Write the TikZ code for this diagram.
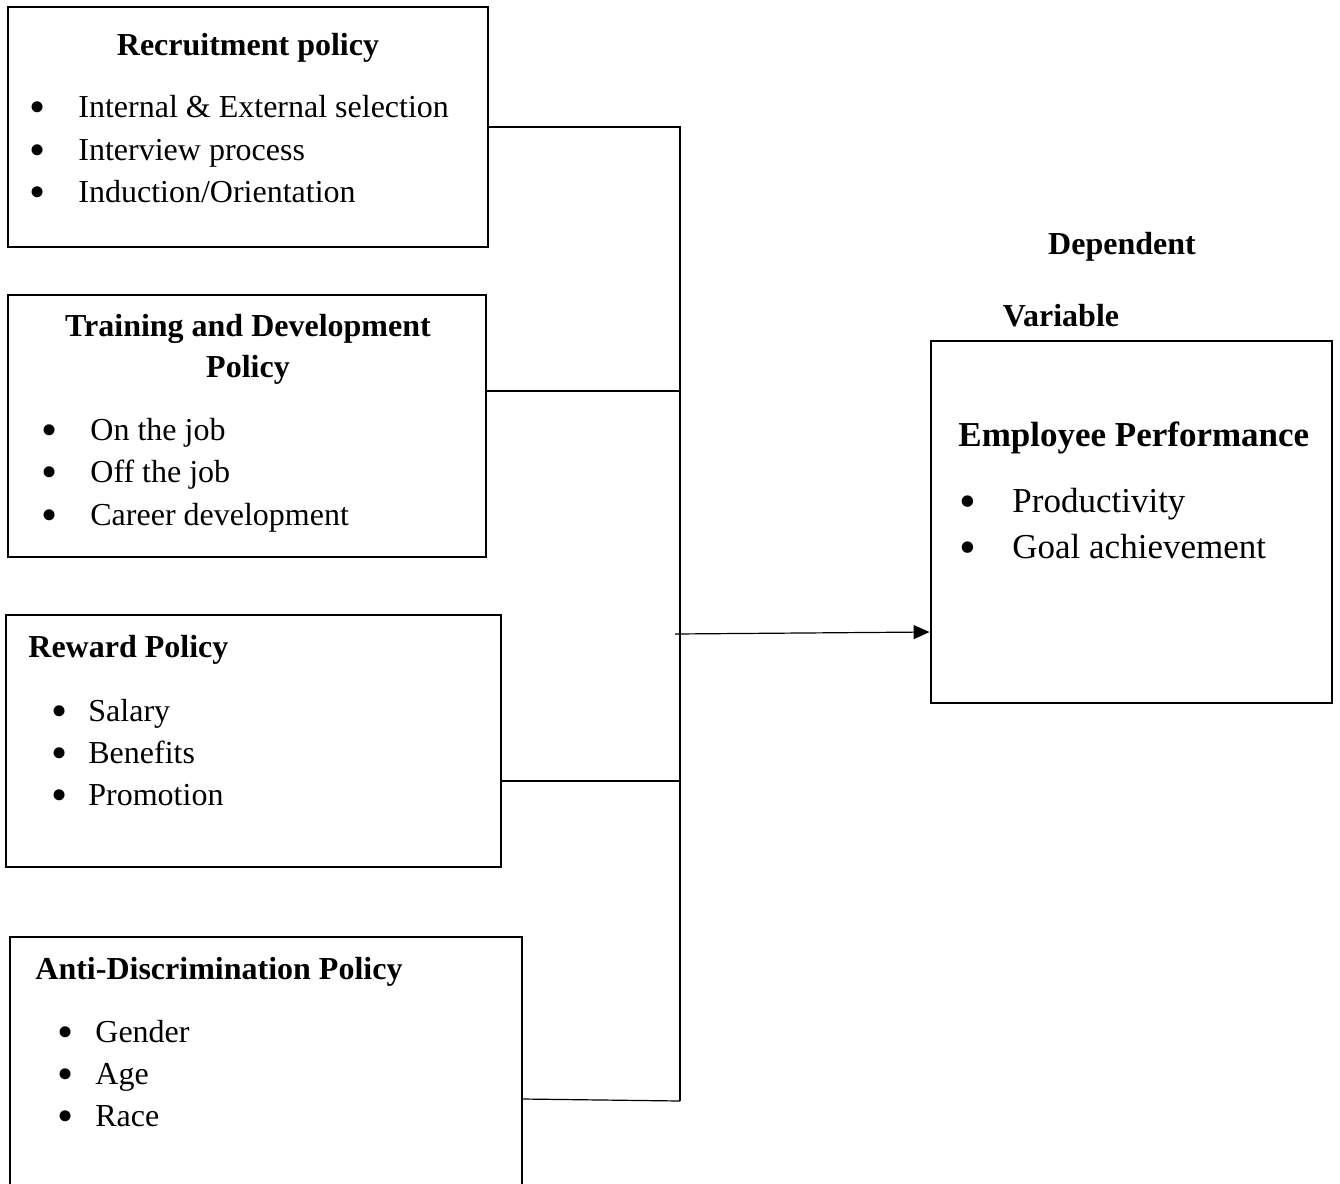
\documentclass[tikz,border=0pt]{standalone}
\usepackage{fontspec}
\setmainfont{Liberation Serif}
\usetikzlibrary{arrows.meta}
\begin{document}
\begin{tikzpicture}[x=0.5pt,y=-0.5pt,
  box/.style={draw, line width=1.45pt, rectangle, inner sep=0pt},
  conn/.style={line width=0.6pt},
  txt/.style={inner sep=0pt, font=\fontsize{16}{21}\selectfont},
  bul/.style={inner sep=0pt, anchor=base, font=\fontsize{23}{23}\selectfont},
  rbul/.style={inner sep=0pt, anchor=base, font=\fontsize{24}{24}\selectfont},
  ttl/.style={inner sep=0pt, font=\fontsize{16}{21}\selectfont\bfseries},
  rtxt/.style={inner sep=0pt, font=\fontsize{17.5}{23}\selectfont},
  rttl/.style={inner sep=0pt, font=\fontsize{17.5}{23}\selectfont\bfseries}]
\path[use as bounding box] (0,0) rectangle (1340,1184);

% boxes
\node[box, minimum width=240pt, minimum height=120pt] (rec) at (248,127) {};
\node[box, minimum width=239pt, minimum height=131pt] (trn) at (247,426) {};
\node[box, minimum width=247.5pt, minimum height=126pt] (rew) at (253.5,741) {};
\begin{scope}
\clip (0,0) rectangle (1340,1184);
\node[box, minimum width=256pt, minimum height=136pt] (anti) at (266,1073) {};
\end{scope}
\node[box, minimum width=200.5pt, minimum height=181pt] (emp) at (1131.5,522) {};

% box 1 text
\node[ttl, anchor=base] (t1) at (248,55) {Recruitment policy};
\node[bul] (b11) at (38,122.5) {•};
\node[bul] (b12) at (38,165.5) {•};
\node[bul] (b13) at (38,207.5) {•};
\node[txt, anchor=base west] (i11) at (78,117) {Internal \& External selection};
\node[txt, anchor=base west] (i12) at (78,160) {Interview process};
\node[txt, anchor=base west] (i13) at (78,202) {Induction/Orientation};

% box 2 text
\node[ttl, anchor=base] (t2a) at (248,336) {Training and Development};
\node[ttl, anchor=base] (t2b) at (248,377) {Policy};
\node[bul] (b21) at (50,445.5) {•};
\node[bul] (b22) at (50,487.5) {•};
\node[bul] (b23) at (50,530.5) {•};
\node[txt, anchor=base west] (i21) at (90,440) {On the job};
\node[txt, anchor=base west] (i22) at (90,482) {Off the job};
\node[txt, anchor=base west] (i23) at (90,525) {Career development};

% box 3 text
\node[ttl, anchor=base west] (t3) at (28,657) {Reward Policy};
\node[bul] (b31) at (60,726.5) {•};
\node[bul] (b32) at (60,768.5) {•};
\node[bul] (b33) at (60,810.5) {•};
\node[txt, anchor=base west] (i31) at (88,721) {Salary};
\node[txt, anchor=base west] (i32) at (88,763) {Benefits};
\node[txt, anchor=base west] (i33) at (88,805) {Promotion};

% box 4 text
\node[ttl, anchor=base west] (t4) at (35,979) {Anti-Discrimination Policy};
\node[bul] (b41) at (66,1047.5) {•};
\node[bul] (b42) at (66,1089.5) {•};
\node[bul] (b43) at (66,1131.5) {•};
\node[txt, anchor=base west] (i41) at (95,1042) {Gender};
\node[txt, anchor=base west] (i42) at (95,1084) {Age};
\node[txt, anchor=base west] (i43) at (95,1126) {Race};

% right side
\node[ttl, anchor=base] (dep) at (1122,254) {Dependent};
\node[ttl, anchor=base] (var) at (1061,326) {Variable};
\node[rttl, anchor=base west] (t5) at (958,446) {Employee Performance};
\node[rbul] (b51) at (968,517) {•};
\node[rbul] (b52) at (968,563) {•};
\node[rtxt, anchor=base west] (i51) at (1012,512) {Productivity};
\node[rtxt, anchor=base west] (i52) at (1012,558) {Goal achievement};

% connectors
\coordinate (j1) at (680,127);
\coordinate (j2) at (680,391);
\coordinate (j3) at (680,781);
\coordinate (j4) at (680,1101);
\coordinate (s4) at (522,1099);
\coordinate (a0) at (675,634);
\coordinate (a1) at (930,632);
\draw[conn] (rec.east |- j1) -- (j1) -- (j4);
\draw[conn] (trn.east |- j2) -- (j2);
\draw[conn] (rew.east |- j3) -- (j3);
\draw[conn] (s4) -- (j4);
\draw[conn, -{Triangle[length=8pt, width=7pt]}] (a0) -- (emp.west |- a1);
\end{tikzpicture}
\end{document}
